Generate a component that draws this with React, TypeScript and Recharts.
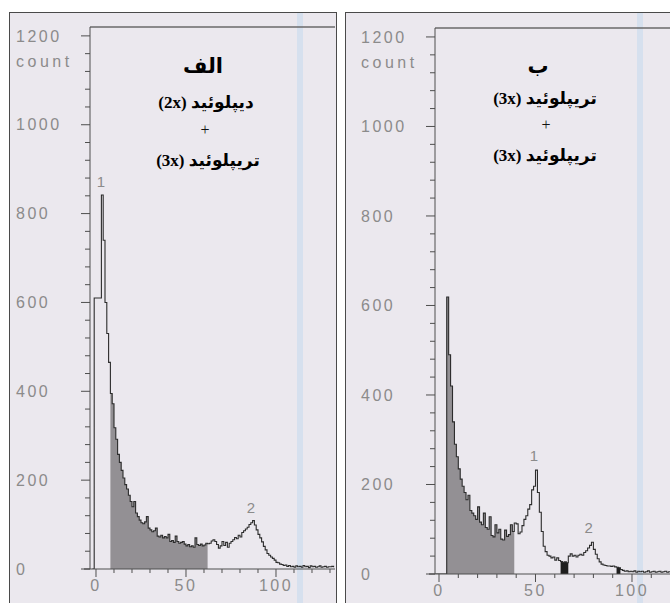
import React from 'react';
import { ComposedChart, Line, Area, XAxis, YAxis, ReferenceLine, ReferenceDot } from 'recharts';

// ---------- data ----------
const binsA = [
  -2, -1, 0, 1, 2, 3, 4, 5, 6, 7,
  8, 9, 10, 11, 12, 13, 14, 15, 16, 17,
  18, 19, 20, 21, 22, 23, 24, 25, 26, 27,
  28, 29, 30, 31, 32, 33, 34, 35, 36, 37,
  38, 39, 40, 41, 42, 43, 44, 45, 46, 47,
  48, 49, 50, 51, 52, 53, 54, 55, 56, 57,
  58, 59, 60, 61, 62, 63, 64, 65, 66, 67,
  68, 69, 70, 71, 72, 73, 74, 75, 76, 77,
  78, 79, 80, 81, 82, 83, 84, 85, 86, 87,
  88, 89, 90, 91, 92, 93, 94, 95, 96, 97,
  98, 99, 100, 101, 102, 103, 104, 105, 106, 107,
  108, 109, 110, 111, 112, 113, 114, 115, 116, 117,
  118, 119, 120, 121, 122, 123, 124, 125, 126, 127,
  128, 129, 130, 131, 132,
];
const countsA = [
  0, 610, 610, 610, 610, 842, 740, 600, 530, 465,
  395, 372, 318, 292, 258, 240, 222, 205, 190, 180,
  166, 152, 140, 152, 126, 118, 110, 104, 102, 106,
  118, 92, 88, 84, 86, 92, 74, 72, 76, 70,
  73, 70, 78, 62, 64, 60, 74, 62, 58, 60,
  62, 56, 52, 55, 50, 52, 49, 70, 55, 53,
  56, 52, 54, 58, 57, 58, 63, 66, 62, 55,
  47, 52, 62, 53, 60, 49, 58, 62, 66, 71,
  68, 76, 72, 82, 86, 90, 94, 100, 104, 109,
  99, 88, 78, 70, 61, 51, 43, 35, 31, 27,
  24, 20, 15, 14, 11, 10, 8, 9, 6, 8,
  5, 6, 4, 7, 5, 6, 4, 8, 5, 6,
  3, 7, 5, 6, 4, 5, 7, 4, 5, 6,
  4, 5, 5, 6, 4,
];
const gateA = [8, 62];

const binsB = [
  -2, -1, 0, 1, 2, 3, 4, 5, 6, 7,
  8, 9, 10, 11, 12, 13, 14, 15, 16, 17,
  18, 19, 20, 21, 22, 23, 24, 25, 26, 27,
  28, 29, 30, 31, 32, 33, 34, 35, 36, 37,
  38, 39, 40, 41, 42, 43, 44, 45, 46, 47,
  48, 49, 50, 51, 52, 53, 54, 55, 56, 57,
  58, 59, 60, 61, 62, 63, 64, 65, 66, 67,
  68, 69, 70, 71, 72, 73, 74, 75, 76, 77,
  78, 79, 80, 81, 82, 83, 84, 85, 86, 87,
  88, 89, 90, 91, 92, 93, 94, 95, 96, 97,
  98, 99, 100, 101, 102, 103, 104, 105, 106, 107,
  108, 109, 110, 111, 112, 113, 114, 115, 116, 117,
  118, 119, 120, 121,
];
const countsB = [
  0, 0, 0, 0, 0, 0, 619, 490, 420, 340,
  290, 262, 235, 212, 196, 182, 166, 176, 142, 136,
  130, 122, 150, 116, 110, 136, 104, 100, 128, 86,
  83, 110, 92, 100, 78, 76, 98, 84, 88, 110,
  95, 114, 112, 90, 94, 108, 122, 130, 145, 155,
  188, 196, 232, 182, 138, 95, 62, 50, 42, 40,
  36, 38, 31, 36, 30, 28, 26, 27, 25, 40,
  45, 40, 42, 38, 42, 44, 42, 48, 52, 58,
  64, 71, 55, 44, 34, 27, 22, 20, 19, 18,
  18, 17, 18, 16, 15, 14, 10, 8, 6, 7,
  5, 6, 5, 7, 4, 6, 5, 6, 4, 5,
  7, 4, 5, 6, 4, 5, 6, 4, 5, 6,
  4, 5, 5, 4,
];
const gateB = [4, 39];
const darkGatesB = [[63, 67], [92, 94]];

const yTicks = [
  0, 40, 80, 120, 160, 200, 240, 280, 320, 360, 400, 440, 480, 520, 560, 600,
  640, 680, 720, 760, 800, 840, 880, 920, 960, 1000, 1040, 1080, 1120, 1160, 1200,
];
const yLabels = [0, 200, 400, 600, 800, 1000, 1200];
const xTicksA = [0, 10, 20, 30, 40, 50, 60, 70, 80, 90, 100, 110, 120, 130];
const xTicksB = [0, 10, 20, 30, 40, 50, 60, 70, 80, 90, 100, 110, 120];
const xLabels = [0, 50, 100];
const Y_MAX = 1220;

const peaksA = [
  { name: '1', x: 2.8, y: 842 },
  { name: '2', x: 86.1, y: 109 },
];
const peaksB = [
  { name: '1', x: 49.2, y: 232 },
  { name: '2', x: 77.5, y: 71 },
];

function buildRows(bins: number[], counts: number[], gate: number[], dark: number[][]) {
  return bins.map((x, i) => {
    const c = counts[i];
    const inDark = dark.some(([a, b]) => x >= a && x <= b);
    return {
      x,
      count: c,
      gate: x >= gate[0] && x <= gate[1] ? c : null,
      dark: inDark ? c : null,
    };
  });
}
const rowsA = buildRows(binsA, countsA, gateA, []);
const rowsB = buildRows(binsB, countsB, gateB, darkGatesB);

// ---------- style ----------
const PAPER = '#ebe8ee';
const AXIS = '#4e4e4e';
const LABEL = '#8b8b8b';
const TICK_FONT = '"Liberation Sans", Arial, sans-serif';

function XTick(props: any) {
  const { x, y, payload } = props;
  const v = payload.value;
  const major = xLabels.includes(v);
  return (
    <g>
      <line x1={x} x2={x} y1={y} y2={y + (major ? 8 : 4)} stroke={AXIS} strokeWidth={1} />
      {major && (
        <text x={x} y={y + 22} textAnchor="middle" fill={LABEL} fontSize={16}
          fontFamily={TICK_FONT} letterSpacing={2.5}>
          {v}
        </text>
      )}
    </g>
  );
}

function YTick(props: any) {
  const { x, y, payload } = props;
  const v = payload.value;
  const major = yLabels.includes(v);
  return (
    <g>
      <line x1={x - (major ? 9 : 5)} x2={x} y1={y} y2={y} stroke={AXIS} strokeWidth={1} />
      {v === 0 && <line x1={x - 6} x2={x} y1={y} y2={y} stroke={AXIS} strokeWidth={1.2} />}
      {major && (
        <text x={x - 74} y={y} dy="0.36em" textAnchor="start" fill={LABEL} fontSize={16}
          fontFamily={TICK_FONT} letterSpacing={2.5}>
          {v}
        </text>
      )}
      {v === 1200 && (
        <text x={x - 74} y={y + 25} dy="0.36em" textAnchor="start" fill={LABEL} fontSize={16}
          fontFamily={TICK_FONT} letterSpacing={3.5}>
          count
        </text>
      )}
    </g>
  );
}

type HistProps = {
  rows: any[];
  xDomain: number[];
  xTicks: number[];
  width: number;
  height: number;
  margin: { top: number; right: number; bottom: number; left: number };
  yAxisWidth: number;
  xAxisHeight: number;
  peaks: { name: string; x: number; y: number }[];
  peakOffset: number;
  hasDark: boolean;
};

function Histogram(p: HistProps) {
  return (
    <ComposedChart width={p.width} height={p.height} data={p.rows} margin={p.margin}>
      <XAxis dataKey="x" type="number" domain={p.xDomain} allowDataOverflow ticks={p.xTicks}
        interval={0} tickSize={0} tickMargin={0} tickLine={false}
        axisLine={{ stroke: AXIS, strokeWidth: 1.2 }} tick={<XTick />} height={p.xAxisHeight} />
      <YAxis type="number" domain={[0, Y_MAX]} allowDataOverflow ticks={yTicks} interval={0}
        tickSize={0} tickMargin={0} tickLine={false} axisLine={{ stroke: AXIS, strokeWidth: 1 }}
        tick={<YTick />} width={p.yAxisWidth} />
      <ReferenceLine y={Y_MAX} stroke="#6a6a6a" strokeWidth={1.5} ifOverflow="visible" />
      <Area type="stepAfter" dataKey="gate" stroke="none" fill="#939094" fillOpacity={1}
        isAnimationActive={false} connectNulls={false} activeDot={false} />
      {p.hasDark && (
        <Area type="stepAfter" dataKey="dark" stroke="none" fill="#1e1e1e" fillOpacity={1}
          isAnimationActive={false} connectNulls={false} activeDot={false} />
      )}
      <Line type="stepAfter" dataKey="count" stroke="#2c2c2c" strokeWidth={1.1} dot={false}
        activeDot={false} isAnimationActive={false} />
      {p.peaks.map((pk) => (
        <ReferenceDot key={pk.name} x={pk.x} y={pk.y} r={1} fill="none" stroke="none"
          label={{ value: pk.name, position: 'top', offset: p.peakOffset, fill: LABEL, fontSize: 15, fontFamily: TICK_FONT }} />
      ))}
    </ComposedChart>
  );
}

function FaText({ cx, cy, size, word, tag }: { cx: number; cy: number; size: number; word: string; tag?: string }) {
  const lh = Math.round(size * 1.5);
  return (
    <div dir="rtl" style={{
      position: 'absolute', left: cx - 100, top: cy - lh / 2, width: 200, height: lh,
      lineHeight: `${lh}px`, textAlign: 'center', fontFamily: '"DejaVu Sans", sans-serif',
      fontWeight: 700, fontSize: size, color: '#000', whiteSpace: 'nowrap',
    }}>
      {word}
      {tag && <span style={{ fontFamily: '"Liberation Serif", serif', fontWeight: 700 }}> {tag}</span>}
    </div>
  );
}

function Plus({ cx, cy }: { cx: number; cy: number }) {
  return (
    <div style={{
      position: 'absolute', left: cx - 20, top: cy - 10, width: 40, height: 20, lineHeight: '20px',
      textAlign: 'center', fontFamily: '"Liberation Serif", serif', fontSize: 16, color: '#111',
    }}>+</div>
  );
}

export default function App() {
  return (
    <div style={{ position: 'absolute', left: 0, top: 0, width: 670, height: 603, overflow: 'hidden', background: '#ffffff' }}>
      {/* panel A */}
      <div style={{
        position: 'absolute', left: 9, top: 12, width: 328, height: 620, boxSizing: 'border-box',
        border: '1px solid #4a4a4a', background: PAPER, overflow: 'hidden',
      }}>
        <div style={{ position: 'absolute', left: 287, top: 0, width: 6, height: 620, background: 'rgba(196,216,238,0.55)' }} />
        <div style={{ position: 'absolute', left: 0, top: 0 }}>
          <Histogram rows={rowsA} xDomain={[-3.333, 132.78]} xTicks={xTicksA} width={327} height={600}
            margin={{ top: 14, right: 2, bottom: 0, left: 0 }} yAxisWidth={80} xAxisHeight={44}
            peaks={peaksA} peakOffset={7} hasDark={false} />
        </div>
      </div>
      {/* panel B */}
      <div style={{
        position: 'absolute', left: 345, top: 12, width: 340, height: 620, boxSizing: 'border-box',
        border: '1px solid #4a4a4a', background: PAPER, overflow: 'hidden',
      }}>
        <div style={{ position: 'absolute', left: 291, top: 0, width: 6, height: 620, background: 'rgba(196,216,238,0.55)' }} />
        <div style={{ position: 'absolute', left: 0, top: 0 }}>
          <Histogram rows={rowsB} xDomain={[-2.073, 120.73]} xTicks={xTicksB} width={328} height={600}
            margin={{ top: 15, right: 2, bottom: 0, left: 0 }} yAxisWidth={89} xAxisHeight={39}
            peaks={peaksB} peakOffset={8} hasDark={true} />
        </div>
      </div>
      {/* titles */}
      <FaText cx={203} cy={66} size={21} word="الف" />
      <FaText cx={206} cy={102} size={17} word="دیپلوئید" tag="(2x)" />
      <Plus cx={205} cy={130} />
      <FaText cx={208} cy={160} size={17} word="تریپلوئید" tag="(3x)" />
      <FaText cx={538} cy={66} size={21} word="ب" />
      <FaText cx={545} cy={98} size={17} word="تریپلوئید" tag="(3x)" />
      <Plus cx={546} cy={125} />
      <FaText cx={545} cy={155} size={17} word="تریپلوئید" tag="(3x)" />
    </div>
  );
}
